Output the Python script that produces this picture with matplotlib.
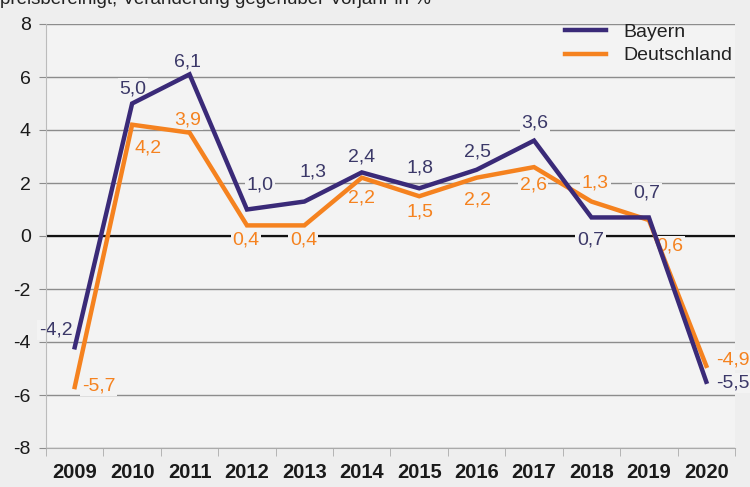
import matplotlib
matplotlib.use("Agg")
import matplotlib.pyplot as plt
from matplotlib.ticker import MultipleLocator, FixedLocator

years = ["2009", "2010", "2011", "2012", "2013", "2014", "2015", "2016", "2017", "2018", "2019", "2020"]
bayern = [-4.2, 5.0, 6.1, 1.0, 1.3, 2.4, 1.8, 2.5, 3.6, 0.7, 0.7, -5.5]
deutschland = [-5.7, 4.2, 3.9, 0.4, 0.4, 2.2, 1.5, 2.2, 2.6, 1.3, 0.6, -4.9]
series_names = ["Bayern", "Deutschland"]
subtitle = "preisbereinigt, Veränderung gegenüber Vorjahr in %"

# label offsets in pixels (dx, dy), dy positive = up
off_b = [(-19, 17), (1, 15), (-2, 12), (13, 24), (9, 30), (0, 15), (1, 20), (1, 18), (1, 18), (-1, -23), (-2, 24), (27, -1)]
off_d = [(24, 1), (16, -23), (-2, 13), (-1, -15), (-1, -15), (0, -20), (1, -16), (1, -22), (-1, -18), (4, 19), (21, -26), (27, 6)]

PURPLE = "#3a2a78"
PURPLE_TXT = "#3b3868"
ORANGE = "#f5821f"
BG = "#eeeeee"
AXBG = "#f3f3f3"

plt.rcParams["font.family"] = ["Liberation Sans", "DejaVu Sans"]

fig = plt.figure(figsize=(7.5, 4.87), dpi=100, facecolor=BG)
ax = fig.add_axes([46 / 750, 39 / 487, 689 / 750, 424 / 487])
ax.set_facecolor(AXBG)

x = list(range(len(years)))
ax.set_xlim(-0.5, len(years) - 0.5)
ax.set_ylim(-8, 8)

for s in ["top", "right"]:
    ax.spines[s].set_visible(False)
ax.spines["left"].set_color("#bbbbbb")
ax.spines["bottom"].set_color("#aaaaaa")

ax.yaxis.set_major_locator(MultipleLocator(2))
ax.grid(axis="y", color="#8c8c8c", lw=1.0, zorder=0)
ax.set_axisbelow(True)
ax.axhline(0, color="#111111", lw=1.6, zorder=1)

ax.plot(x, bayern, color=PURPLE, lw=3.2, label=series_names[0], zorder=3, solid_joinstyle="miter")
ax.plot(x, deutschland, color=ORANGE, lw=3.2, label=series_names[1], zorder=2.5, solid_joinstyle="miter")

def lab(v):
    return f"{v:.1f}".replace(".", ",")

for i in x:
    ax.annotate(lab(bayern[i]), (i, bayern[i]), xytext=off_b[i], textcoords="offset pixels",
                ha="center", va="center", fontsize=14, color=PURPLE_TXT, zorder=1.5,
                bbox=dict(boxstyle="square,pad=0.08", fc=AXBG, ec="none"))
    ax.annotate(lab(deutschland[i]), (i, deutschland[i]), xytext=off_d[i], textcoords="offset pixels",
                ha="center", va="center", fontsize=14, color=ORANGE, zorder=1.5,
                bbox=dict(boxstyle="square,pad=0.08", fc=AXBG, ec="none"))

# ticks
ax.set_xticks(x)
ax.set_xticklabels(years, fontsize=14.5, fontweight="bold", color="#1a1a1a")
ax.tick_params(axis="x", which="major", length=0, pad=11)
ax.xaxis.set_minor_locator(FixedLocator([i - 0.5 for i in range(len(years) + 1)]))
ax.tick_params(axis="x", which="minor", length=6, color="#aaaaaa", direction="out")
ax.set_yticks([-8, -6, -4, -2, 0, 2, 4, 6, 8])
ax.set_yticklabels(["-8", "-6", "-4", "-2", "0", "2", "4", "6", "8"], fontsize=14, color="#1a1a1a")
ax.tick_params(axis="y", length=5, color="#8c8c8c", pad=6)

leg = ax.legend(loc="upper right", frameon=False, fontsize=14, handlelength=2.1,
                handletextpad=0.9, labelspacing=0.3, borderaxespad=0.0,
                bbox_to_anchor=(1.008, 1.02))
for t in leg.get_texts():
    t.set_color("#222222")

fig.text(0.0, 1 - 4 / 487, subtitle, fontsize=13.5, color="#222222", ha="left", va="baseline")

fig.savefig("out.png", dpi=100, facecolor=BG)
